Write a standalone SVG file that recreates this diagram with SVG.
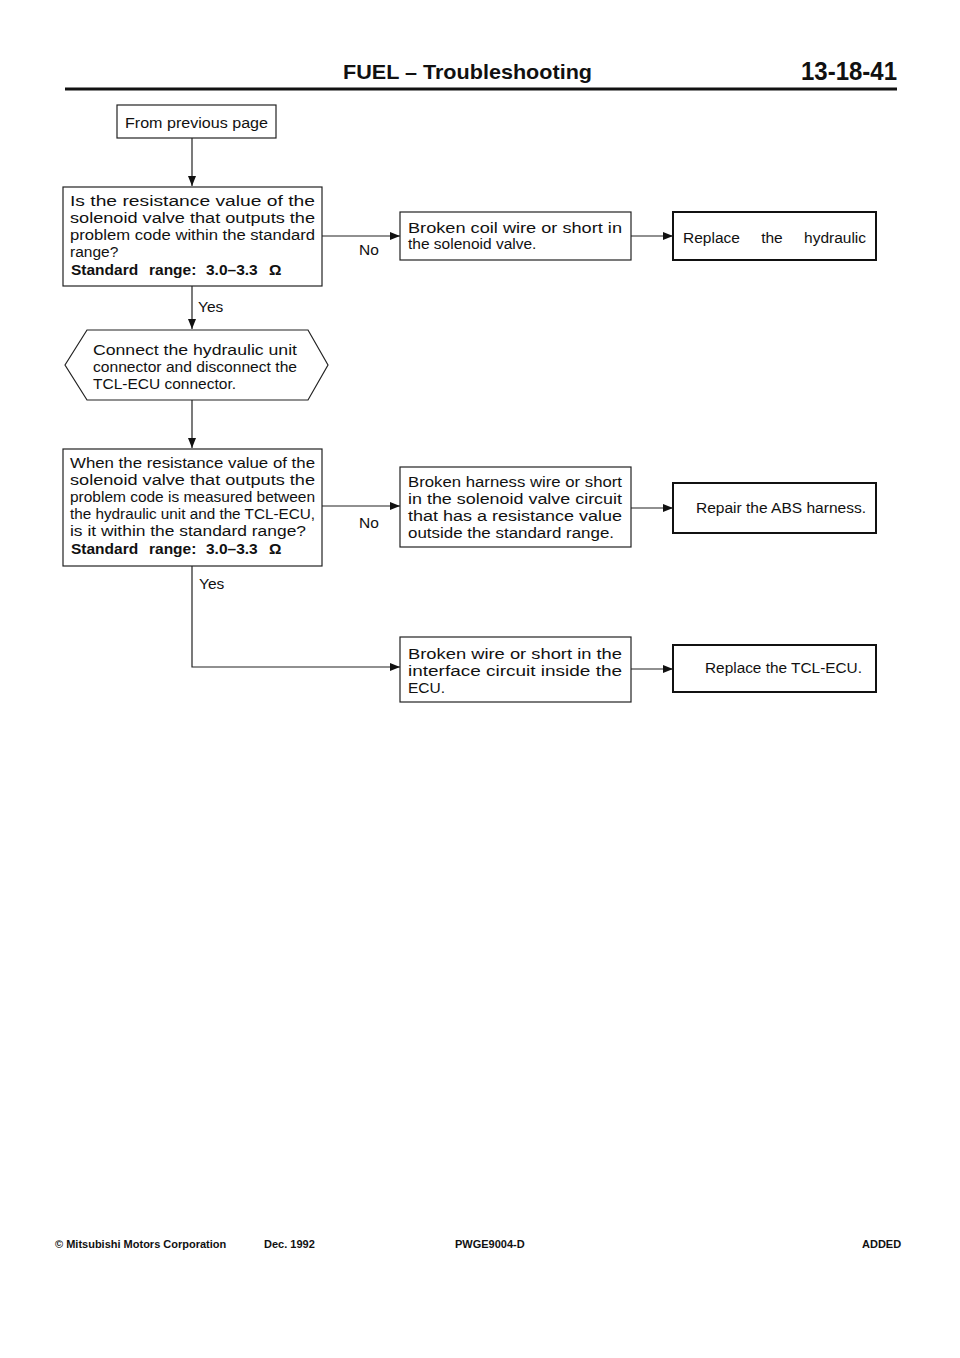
<svg xmlns="http://www.w3.org/2000/svg" width="960" height="1358" viewBox="0 0 960 1358">
<defs>
<marker id="ah" markerWidth="10" markerHeight="8" refX="10" refY="4" orient="auto" markerUnits="userSpaceOnUse">
<path d="M0,0 L10,4 L0,8 Z" fill="#111"/>
</marker>
<style>
.t{font-family:"Liberation Sans",Arial,sans-serif;font-size:15.5px;fill:#111}
.b{font-weight:bold}
.box{fill:#fff;stroke:#222;stroke-width:1.2}
.box2{fill:#fff;stroke:#111;stroke-width:2}
.c{fill:none;stroke:#222;stroke-width:1.2}
.f{font-family:"Liberation Sans",Arial,sans-serif;font-size:11px;font-weight:bold;fill:#111}
</style>
</defs>
<rect width="960" height="1358" fill="#fff"/>
<g id="header">
<text x="343" y="79" class="t b" style="font-size:21px" textLength="249" lengthAdjust="spacingAndGlyphs">FUEL – Troubleshooting</text>
<text x="801" y="80" class="t b" style="font-size:25px" textLength="96" lengthAdjust="spacingAndGlyphs">13-18-41</text>
<line x1="65" y1="89" x2="897" y2="89" stroke="#111" stroke-width="3"/>
</g>
<g id="connectors">
<line x1="192" y1="138" x2="192" y2="186" class="c" marker-end="url(#ah)"/>
<line x1="322" y1="236" x2="400" y2="236" class="c" marker-end="url(#ah)"/>
<text x="359" y="255" class="t">No</text>
<line x1="631" y1="236" x2="673" y2="236" class="c" marker-end="url(#ah)"/>
<line x1="192" y1="286" x2="192" y2="329" class="c" marker-end="url(#ah)"/>
<text x="198" y="312" class="t">Yes</text>
<line x1="192" y1="400" x2="192" y2="448" class="c" marker-end="url(#ah)"/>
<line x1="322" y1="506" x2="400" y2="506" class="c" marker-end="url(#ah)"/>
<text x="359" y="528" class="t">No</text>
<line x1="631" y1="508" x2="673" y2="508" class="c" marker-end="url(#ah)"/>
<polyline points="192,566 192,667 400,667" class="c" marker-end="url(#ah)"/>
<text x="199" y="589" class="t">Yes</text>
<line x1="631" y1="669" x2="673" y2="669" class="c" marker-end="url(#ah)"/>
</g>
<g id="n0">
<rect x="117" y="105" width="159" height="33" class="box"/>
<text x="125" y="128" class="t" textLength="143" lengthAdjust="spacingAndGlyphs">From previous page</text>
</g>
<g id="n1">
<rect x="63" y="187" width="259" height="99" class="box"/>
<text x="70" y="206" class="t" textLength="245" lengthAdjust="spacingAndGlyphs">Is the resistance value of the</text>
<text x="70" y="223" class="t" textLength="245" lengthAdjust="spacingAndGlyphs">solenoid valve that outputs the</text>
<text x="70" y="240" class="t" textLength="245" lengthAdjust="spacingAndGlyphs">problem code within the standard</text>
<text x="70" y="257" class="t">range?</text>
<text y="275" class="t b"><tspan x="71">Standard</tspan><tspan x="149">range:</tspan><tspan x="206">3.0–3.3</tspan><tspan x="269">Ω</tspan></text>
</g>
<g id="n2">
<rect x="400" y="212" width="231" height="48" class="box"/>
<text x="408" y="233" class="t" textLength="214" lengthAdjust="spacingAndGlyphs">Broken coil wire or short in</text>
<text x="408" y="249" class="t">the solenoid valve.</text>
</g>
<g id="n3">
<rect x="673" y="212" width="203" height="48" class="box2"/>
<text x="683" y="243" class="t" word-spacing="17">Replace the hydraulic</text>
</g>
<g id="n4">
<polygon points="65,365 87,330 308,330 328,365 308,400 87,400" class="box"/>
<text x="93" y="355" class="t" textLength="204" lengthAdjust="spacingAndGlyphs">Connect the hydraulic unit</text>
<text x="93" y="372" class="t" textLength="204" lengthAdjust="spacingAndGlyphs">connector and disconnect the</text>
<text x="93" y="389" class="t">TCL-ECU connector.</text>
</g>
<g id="n5">
<rect x="63" y="449" width="259" height="117" class="box"/>
<text x="70" y="468" class="t" textLength="245" lengthAdjust="spacingAndGlyphs">When the resistance value of the</text>
<text x="70" y="485" class="t" textLength="245" lengthAdjust="spacingAndGlyphs">solenoid valve that outputs the</text>
<text x="70" y="502" class="t" textLength="245" lengthAdjust="spacingAndGlyphs">problem code is measured between</text>
<text x="70" y="519" class="t" textLength="245" lengthAdjust="spacingAndGlyphs">the hydraulic unit and the TCL-ECU,</text>
<text x="70" y="536" class="t" textLength="236" lengthAdjust="spacingAndGlyphs">is it within the standard range?</text>
<text y="554" class="t b"><tspan x="71">Standard</tspan><tspan x="149">range:</tspan><tspan x="206">3.0–3.3</tspan><tspan x="269">Ω</tspan></text>
</g>
<g id="n6">
<rect x="400" y="467" width="231" height="80" class="box"/>
<text x="408" y="487" class="t" textLength="214" lengthAdjust="spacingAndGlyphs">Broken harness wire or short</text>
<text x="408" y="504" class="t" textLength="214" lengthAdjust="spacingAndGlyphs">in the solenoid valve circuit</text>
<text x="408" y="521" class="t" textLength="214" lengthAdjust="spacingAndGlyphs">that has a resistance value</text>
<text x="408" y="538" class="t" textLength="206" lengthAdjust="spacingAndGlyphs">outside the standard range.</text>
</g>
<g id="n7">
<rect x="673" y="483" width="203" height="50" class="box2"/>
<text x="696" y="513" class="t" textLength="170" lengthAdjust="spacingAndGlyphs">Repair the ABS harness.</text>
</g>
<g id="n8">
<rect x="400" y="637" width="231" height="65" class="box"/>
<text x="408" y="659" class="t" textLength="214" lengthAdjust="spacingAndGlyphs">Broken wire or short in the</text>
<text x="408" y="676" class="t" textLength="214" lengthAdjust="spacingAndGlyphs">interface circuit inside the</text>
<text x="408" y="693" class="t">ECU.</text>
</g>
<g id="n9">
<rect x="673" y="645" width="203" height="47" class="box2"/>
<text x="705" y="673" class="t" textLength="157" lengthAdjust="spacingAndGlyphs">Replace the TCL-ECU.</text>
</g>
<g id="footer">
<text x="55" y="1248" class="f">© Mitsubishi Motors Corporation</text>
<text x="264" y="1248" class="f">Dec. 1992</text>
<text x="455" y="1248" class="f">PWGE9004-D</text>
<text x="862" y="1248" class="f">ADDED</text>
</g>
</svg>
